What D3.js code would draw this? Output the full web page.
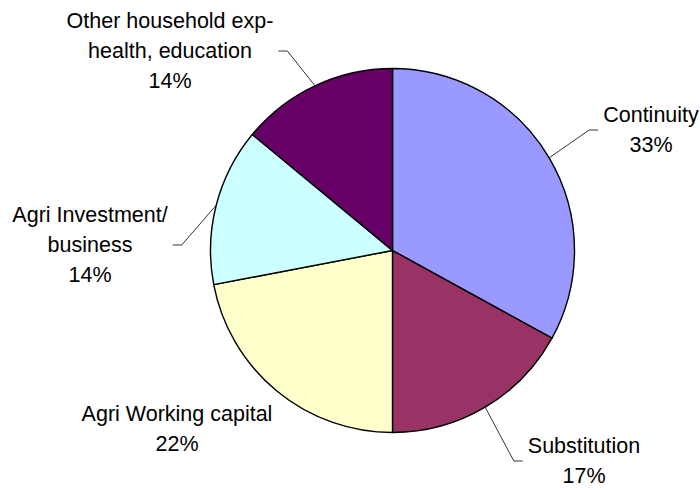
<!DOCTYPE html>
<html>
<head>
<meta charset="utf-8">
<script src="https://cdn.jsdelivr.net/npm/d3@7"></script>
<style>
  html, body { margin: 0; padding: 0; background: #ffffff; }
  svg { display: block; }
  text { font-family: "Liberation Sans", Arial, sans-serif; fill: #000; }
</style>
</head>
<body>
<svg id="chart" width="700" height="490"></svg>
<script>
// Uses of the money, share of total (%)
const categories = ["Continuity", "Substitution", "Agri Working capital", "Agri Investment/ business", "Other household exp- health, education"];
const shares = [33, 17, 22, 14, 14];
// Label text, broken into lines as displayed
const labelLines = [
  ["Continuity"],
  ["Substitution"],
  ["Agri Working capital"],
  ["Agri Investment/", "business"],
  ["Other household exp-", "health, education"]
];
const colors = ["#9999FF", "#993366", "#FFFFCC", "#CCFFFF", "#660066"];

// Label placement: centre x and first baseline y, and whether a leader line is drawn
const labelLayout = [
  { x: 651, y: 122, leader: true },
  { x: 584, y: 453, leader: true },
  { x: 177, y: 421, leader: false },
  { x: 90,  y: 222, leader: true },
  { x: 170, y: 28,  leader: true }
];

const W = 700, H = 490;
const cx = 392.5, cy = 250.5, R = 182;
const fontSize = 21.5, lineStep = 30;

const svg = d3.select("#chart");
const g = svg.append("g").attr("transform", `translate(${cx},${cy})`);

const data = categories.map((c, i) => ({ name: c, value: shares[i], i }));
const pie = d3.pie().sort(null).value(d => d.value);
const arcs = pie(data);
const arc = d3.arc().innerRadius(0).outerRadius(R);
const edge = d3.arc().innerRadius(R).outerRadius(R);

g.selectAll("path.slice")
  .data(arcs)
  .join("path")
  .attr("class", "slice")
  .attr("d", arc)
  .attr("fill", d => colors[d.data.i])
  .attr("stroke", "#000")
  .attr("stroke-width", 1.4)
  .attr("stroke-linejoin", "round");

// Labels with percentages
const labels = svg.append("g");
arcs.forEach(a => {
  const i = a.data.i;
  const lay = labelLayout[i];
  const lines = labelLines[i].concat([d3.format(".0f")(a.data.value) + "%"]);
  const t = labels.append("text")
    .attr("text-anchor", "middle")
    .attr("font-size", fontSize);
  lines.forEach((ln, k) => {
    t.append("tspan")
      .attr("x", lay.x)
      .attr("y", lay.y + k * lineStep)
      .text(ln);
  });
  if (!lay.leader) return;
  const bb = t.node().getBBox();
  const [ex, ey] = edge.centroid(a);
  const px = cx + ex, py = cy + ey;
  const onRight = bb.x > cx;
  const ly = bb.y + bb.height / 2;
  const endX = onRight ? bb.x - 5 : bb.x + bb.width + 5;
  const kneeX = onRight ? endX - 9 : endX + 9;
  svg.append("polyline")
    .attr("points", `${px},${py} ${kneeX},${ly} ${endX},${ly}`)
    .attr("fill", "none")
    .attr("stroke", "#000")
    .attr("stroke-width", 0.8);
});
</script>
</body>
</html>
